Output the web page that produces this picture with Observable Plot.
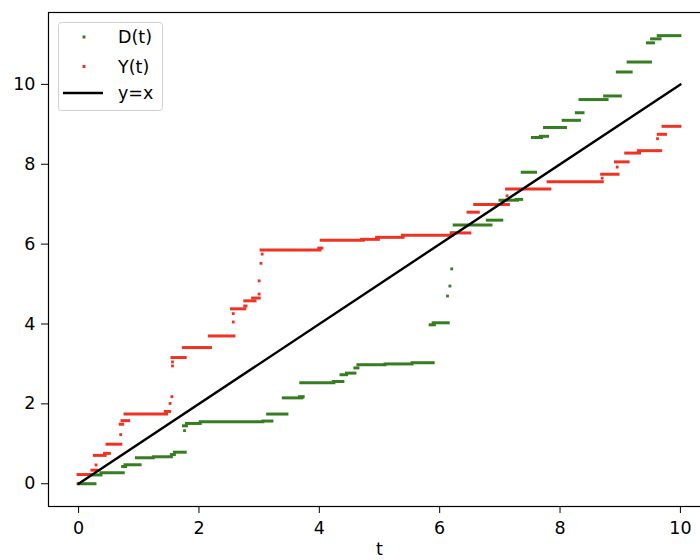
<!DOCTYPE html>
<html>
<head>
<meta charset="utf-8">
<script src="https://cdn.jsdelivr.net/npm/d3@7"></script>
<script src="https://cdn.jsdelivr.net/npm/@observablehq/plot@0.6"></script>
<style>
  html, body { margin: 0; padding: 0; background: #fff; overflow: hidden; }
  #wrap { position: relative; width: 700px; height: 560px; }
  #legend { position: absolute; left: 0; top: 0; }
</style>
</head>
<body>
<div id="wrap"></div>
<script>
// ---- data ----
const seriesNames = ["D(t)", "Y(t)", "y=x"];
const seriesColors = ["#357d20", "#ee3322", "#000000"];
const xTicks = [0, 2, 4, 6, 8, 10];
const yTicks = [0, 2, 4, 6, 8, 10];

// D(t): horizontal pieces [t start, t end, value]
const dSegments = [
  [0, 0.28, 0.0], [0.25, 0.38, 0.22], [0.38, 0.75, 0.275], [0.74, 0.79, 0.43],
  [0.78, 1.03, 0.475], [0.97, 1.25, 0.65], [1.25, 1.55, 0.675], [1.55, 1.6, 0.73],
  [1.6, 1.78, 0.79], [1.75, 1.8, 1.45], [1.8, 2.03, 1.51], [2.03, 3.07, 1.55],
  [3.07, 3.22, 1.57], [3.15, 3.47, 1.745], [3.41, 3.72, 2.15], [3.68, 3.74, 2.18],
  [3.7, 4.25, 2.53], [4.24, 4.4, 2.56], [4.37, 4.46, 2.73], [4.46, 4.6, 2.77],
  [4.6, 4.65, 2.9], [4.65, 5.1, 2.98], [5.1, 5.55, 3.0], [5.55, 5.9, 3.03],
  [5.85, 5.92, 3.98], [5.9, 6.15, 4.03], [6.2, 6.26, 6.28], [6.25, 6.86, 6.48],
  [6.8, 7.04, 6.6], [7.01, 7.3, 7.1], [7.28, 7.37, 7.12], [7.38, 7.6, 7.8],
  [7.55, 7.7, 8.67], [7.68, 7.8, 8.7], [7.75, 8.1, 8.92], [8.06, 8.33, 9.1],
  [8.28, 8.39, 9.29], [8.34, 8.79, 9.62], [8.75, 9.01, 9.71], [8.96, 9.19, 10.31],
  [9.14, 9.51, 10.56], [9.46, 9.56, 11.04], [9.53, 9.67, 11.14], [9.64, 10.0, 11.22]
];
// D(t): isolated sample points [t, value]
const dPoints = [[1.76, 1.33], [6.13, 4.7], [6.17, 4.95], [6.2, 5.38]];

// Y(t): horizontal pieces [t start, t end, value]
const ySegments = [
  [0, 0.23, 0.23], [0.23, 0.31, 0.34], [0.27, 0.45, 0.71], [0.44, 0.52, 0.76],
  [0.48, 0.71, 0.99], [0.7, 0.74, 1.49], [0.73, 0.84, 1.58], [0.78, 1.47, 1.745],
  [1.45, 1.52, 1.81], [1.56, 1.78, 3.16], [1.75, 2.2, 3.41], [2.18, 2.59, 3.7],
  [2.55, 2.77, 4.38], [2.77, 2.79, 4.45], [2.77, 2.94, 4.58], [2.9, 3.01, 4.65],
  [3.04, 4.02, 5.85], [4.0, 4.05, 5.9], [4.04, 4.74, 6.1], [4.71, 4.99, 6.12],
  [4.96, 5.4, 6.17], [5.39, 6.21, 6.22], [6.21, 6.51, 6.28], [6.48, 6.65, 6.8],
  [6.59, 7.15, 6.99], [7.12, 7.84, 7.38], [7.81, 8.71, 7.56], [8.7, 8.97, 7.75],
  [8.93, 9.14, 8.06], [9.1, 9.33, 8.28], [9.31, 9.68, 8.34], [9.64, 9.76, 8.75],
  [9.72, 10.0, 8.95]
];
// Y(t): isolated sample points [t, value]
const yPoints = [
  [0, 0], [0.29, 0.47], [0.7, 1.23], [1.52, 2.01], [1.55, 2.18], [1.56, 2.95],
  [1.56, 3.05], [2.57, 4.05], [2.57, 4.26], [3.0, 4.75], [3.0, 5.08],
  [3.03, 5.52], [3.05, 5.75], [7.12, 7.21], [8.7, 7.65], [8.95, 7.93], [9.62, 8.64]
];

// reference line y = x endpoints
const diagT = [0, 10];

// ---- chart ----
const W = 700, H = 560;
const font = "DejaVu Sans, sans-serif";
const fs = 17.5;

const chart = Plot.plot({
  width: W,
  height: H,
  marginTop: 12,
  marginBottom: 54,
  marginLeft: 48,
  marginRight: -10,
  style: { fontFamily: font, fontSize: fs + "px", background: "#fff", overflow: "visible" },
  x: { domain: [-0.5, 10.5] },
  y: { domain: [-0.57, 11.8] },
  marks: [
    Plot.axisX({ ticks: xTicks, tickSize: 7, tickPadding: 8, fontSize: fs, label: "t", labelAnchor: "center", labelArrow: "none", labelOffset: 48, tickFormat: d3.format("d") }),
    Plot.axisY({ ticks: yTicks, tickSize: 7, tickPadding: 6, fontSize: fs, label: null, tickFormat: d3.format("d") }),
    Plot.ruleY(dSegments, { x1: d => d[0], x2: d => d[1], y: d => d[2], stroke: seriesColors[0], strokeWidth: 3, strokeLinecap: "square" }),
    Plot.dot(dPoints, { x: d => d[0], y: d => d[1], symbol: "square", r: 1.6, fill: seriesColors[0] }),
    Plot.ruleY(ySegments, { x1: d => d[0], x2: d => d[1], y: d => d[2], stroke: seriesColors[1], strokeWidth: 3, strokeLinecap: "square" }),
    Plot.dot(yPoints, { x: d => d[0], y: d => d[1], symbol: "square", r: 1.6, fill: seriesColors[1] }),
    Plot.line(diagT, { x: d => d, y: d => d, stroke: seriesColors[2], strokeWidth: 2.4 }),
    Plot.frame({ stroke: "#000", strokeWidth: 1.2 })
  ]
});
const wrap = document.getElementById("wrap");
wrap.appendChild(chart);

// ---- legend (overlay) ----
const lg = d3.select(wrap).append("svg")
  .attr("id", "legend").attr("width", W).attr("height", H)
  .style("pointer-events", "none");
lg.append("rect").attr("x", 58.5).attr("y", 22.5).attr("width", 104).attr("height", 88)
  .attr("rx", 3).attr("fill", "rgba(255,255,255,0.85)").attr("stroke", "#d0d0d0");
const rowsY = [37, 66.5, 93];
seriesNames.forEach((name, i) => {
  const y = rowsY[i];
  if (i < 2) {
    lg.append("rect").attr("x", 82.5).attr("y", y - 1.5).attr("width", 3).attr("height", 3).attr("fill", seriesColors[i]);
  } else {
    lg.append("line").attr("x1", 63).attr("x2", 103).attr("y1", y).attr("y2", y)
      .attr("stroke", seriesColors[i]).attr("stroke-width", 2.4);
  }
  lg.append("text").attr("x", 118).attr("y", y).attr("dy", "0.35em")
    .attr("font-family", font).attr("font-size", fs).attr("fill", "#000").text(name);
});
</script>
</body>
</html>
